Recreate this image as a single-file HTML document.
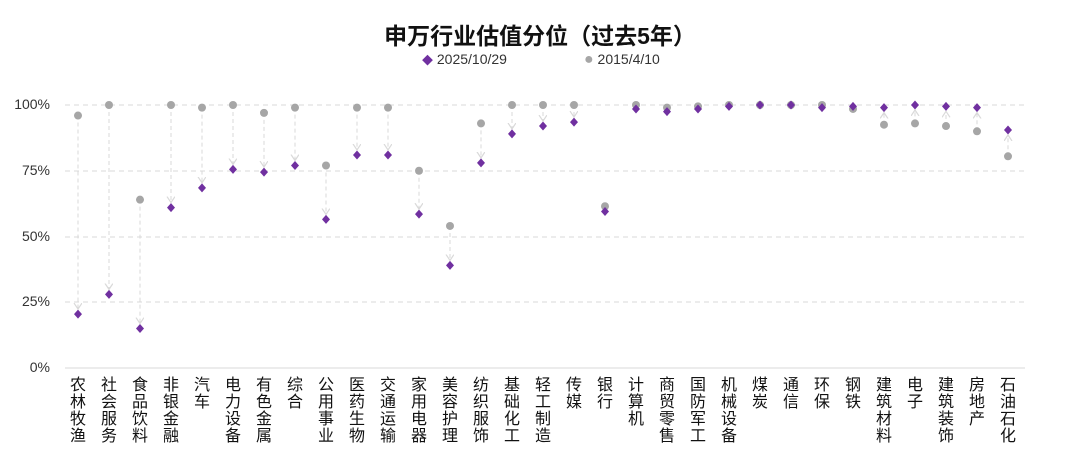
<!DOCTYPE html>
<html><head><meta charset="utf-8"><style>
body{margin:0;width:1080px;height:450px;background:#fff;font-family:"Liberation Sans","Noto Sans CJK SC",sans-serif;position:relative;overflow:hidden}
.t{position:absolute;left:0;width:1080px;top:17px;text-align:center;font-size:23px;font-weight:bold;color:#111}
.lg{position:absolute;top:51px;font-size:14px;color:#333}
.yl{position:absolute;left:0;width:50px;text-align:right;font-size:14px;color:#333}
.cl{position:absolute;top:377px;width:18px;font-size:16px;line-height:17px;color:#111;word-break:break-all;text-align:center}
</style></head><body>
<div class="t">申万行业估值分位（过去5年）</div>
<div class="lg" style="left:422px"><span style="color:#7030a0;font-size:11px">◆</span> 2025/10/29</div>
<div class="lg" style="left:584px"><span style="color:#a6a6a6;font-size:16px;line-height:14px">●</span> 2015/4/10</div>
<div class="yl" style="top:96px">100%</div>
<div class="yl" style="top:162px">75%</div>
<div class="yl" style="top:228px">50%</div>
<div class="yl" style="top:293px">25%</div>
<div class="yl" style="top:359px">0%</div>
<svg id="s" width="1080" height="450" style="position:absolute;left:0;top:0">
<defs><marker id="a" markerWidth="8" markerHeight="10" refX="6" refY="4" orient="auto" markerUnits="userSpaceOnUse"><path d="M0,0 L6,4 L0,8" fill="none" stroke="#d9d9d9" stroke-width="1.2"/></marker></defs>
<g stroke="#d9d9d9" stroke-dasharray="5,4" stroke-width="1">
<line x1="65" x2="1025" y1="105" y2="105"/><line x1="65" x2="1025" y1="171" y2="171"/><line x1="65" x2="1025" y1="237" y2="237"/><line x1="65" x2="1025" y1="302" y2="302"/></g>
<line x1="65" x2="1025" y1="368" y2="368" stroke="#d9d9d9"/>
<g id="g"></g>
</svg>
<div class="cl" style="left:69px">农林牧渔</div><div class="cl" style="left:100px">社会服务</div><div class="cl" style="left:131px">食品饮料</div><div class="cl" style="left:162px">非银金融</div><div class="cl" style="left:193px">汽车</div><div class="cl" style="left:224px">电力设备</div><div class="cl" style="left:255px">有色金属</div><div class="cl" style="left:286px">综合</div><div class="cl" style="left:317px">公用事业</div><div class="cl" style="left:348px">医药生物</div><div class="cl" style="left:379px">交通运输</div><div class="cl" style="left:410px">家用电器</div><div class="cl" style="left:441px">美容护理</div><div class="cl" style="left:472px">纺织服饰</div><div class="cl" style="left:503px">基础化工</div><div class="cl" style="left:534px">轻工制造</div><div class="cl" style="left:565px">传媒</div><div class="cl" style="left:596px">银行</div><div class="cl" style="left:627px">计算机</div><div class="cl" style="left:658px">商贸零售</div><div class="cl" style="left:689px">国防军工</div><div class="cl" style="left:720px">机械设备</div><div class="cl" style="left:751px">煤炭</div><div class="cl" style="left:782px">通信</div><div class="cl" style="left:813px">环保</div><div class="cl" style="left:844px">钢铁</div><div class="cl" style="left:875px">建筑材料</div><div class="cl" style="left:906px">电子</div><div class="cl" style="left:937px">建筑装饰</div><div class="cl" style="left:968px">房地产</div><div class="cl" style="left:999px">石油石化</div>
<script>
var p=[20.5,28,15,61,68.5,75.5,74.5,77,56.5,81,81,58.5,39,78,89,92,93.5,59.5,98.5,97.5,98.5,99.5,100,100,99,99.5,99,100,99.5,99,90.5];
var q=[96,100,64,100,99,100,97,99,77,99,99,75,54,93,100,100,100,61.5,100,99,99.5,100,100,100,100,98.5,92.5,93,92,90,80.5];
var Y=function(v){return 368-v*2.63};var h='';
for(var i=0;i<31;i++){var x=78+i*31,y1=Y(q[i]),y2=Y(p[i]);
if(Math.abs(y1-y2)>8){var d=y2>y1?-5:5;h+='<line x1="'+x+'" x2="'+x+'" y1="'+y1+'" y2="'+(y2+d)+'" stroke="#d9d9d9" stroke-dasharray="4,3" marker-end="url(#a)"/>';}
h+='<circle cx="'+x+'" cy="'+y1+'" r="4" fill="#a6a6a6"/>';
h+='<path d="M'+x+','+(y2-4.5)+' L'+(x+4)+','+y2+' L'+x+','+(y2+4.5)+' L'+(x-4)+','+y2+'Z" fill="#7030a0"/>';}
document.getElementById('g').innerHTML=h;
</script>
</body></html>
